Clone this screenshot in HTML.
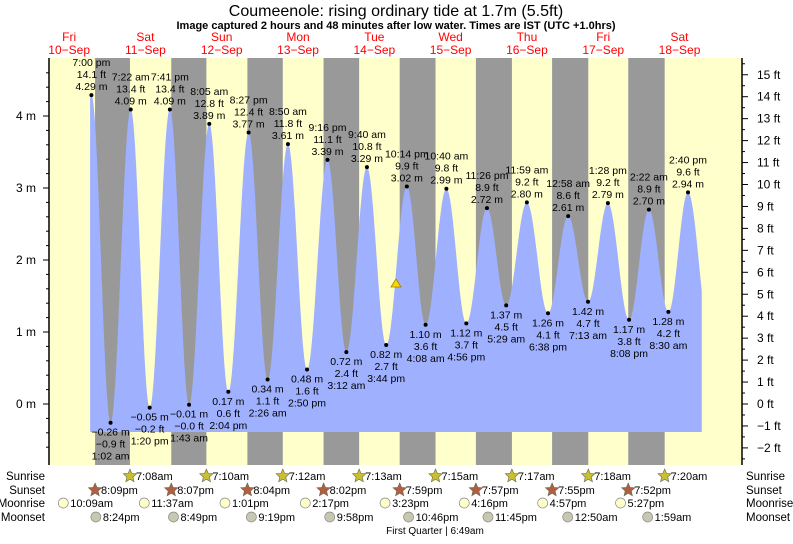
<!DOCTYPE html>
<html><head><meta charset="utf-8"><style>
body{margin:0;background:#fff}
svg text{font-family:"Liberation Sans",sans-serif}
</style></head><body>
<svg id="s" width="793" height="539" xmlns="http://www.w3.org/2000/svg"></svg>
<script>
const S=document.getElementById('s');let h='';
const X=t=>31+3.179*t, Y=m=>404-72*m;
const L=49,R=742,T=58,B=465;
h+=`<rect x="${L}" y="${T}" width="${R-L}" height="${B-T}" fill="#ffffcc"/>`;
const sunsets=[20.15,44.12,68.07,92.03,115.98,139.95,163.92,187.87];
const sunrises=[31.13,55.17,79.2,103.22,127.25,151.28,175.3,199.33];
for(let i=0;i<8;i++)h+=`<rect x="${X(sunsets[i])}" y="${T}" width="${X(sunrises[i])-X(sunsets[i])}" height="${B-T}" fill="#999999"/>`;
const E=[[19,4.29,'7:00 pm','14.1 ft'],[25.03,-0.26,'1:02 am','−0.9 ft'],[31.37,4.09,'7:22 am','13.4 ft'],[37.33,-0.05,'1:20 pm','−0.2 ft'],[43.68,4.09,'7:41 pm','13.4 ft'],[49.72,-0.01,'1:43 am','−0.0 ft'],[56.08,3.89,'8:05 am','12.8 ft'],[62.07,0.17,'2:04 pm','0.6 ft'],[68.45,3.77,'8:27 pm','12.4 ft'],[74.43,0.34,'2:26 am','1.1 ft'],[80.83,3.61,'8:50 am','11.8 ft'],[86.83,0.48,'2:50 pm','1.6 ft'],[93.27,3.39,'9:16 pm','11.1 ft'],[99.2,0.72,'3:12 am','2.4 ft'],[105.67,3.29,'9:40 am','10.8 ft'],[111.73,0.82,'3:44 pm','2.7 ft'],[118.23,3.02,'10:14 pm','9.9 ft'],[124.13,1.10,'4:08 am','3.6 ft'],[130.67,2.99,'10:40 am','9.8 ft'],[136.93,1.12,'4:56 pm','3.7 ft'],[143.43,2.72,'11:26 pm','8.9 ft'],[149.48,1.37,'5:29 am','4.5 ft'],[155.98,2.80,'11:59 am','9.2 ft'],[162.63,1.26,'6:38 pm','4.1 ft'],[168.97,2.61,'12:58 am','8.6 ft'],[175.22,1.42,'7:13 am','4.7 ft'],[181.47,2.79,'1:28 pm','9.2 ft'],[188.13,1.17,'8:08 pm','3.8 ft'],[194.37,2.70,'2:22 am','8.9 ft'],[200.5,1.28,'8:30 am','4.2 ft'],[206.67,2.94,'2:40 pm','9.6 ft']];
const EX=[[13,0]].concat(E.map(e=>[e[0],e[1]]),[[213.5,1.0]]);
function G(f){return (1-Math.cos(Math.PI*f))/2;}
function H(t){for(let i=0;i<EX.length-1;i++){const a=EX[i],b=EX[i+1];if(t>=a[0]&&t<=b[0]){const f=(t-a[0])/(b[0]-a[0]);return a[1]+(b[1]-a[1])*G(f);}}return 0;}
const yb=432;let p=`${X(18.6)},${yb} `;
for(let t=18.6;t<=211;t+=0.05)p+=`${X(t).toFixed(1)},${Y(H(t)).toFixed(1)} `;
p+=`${X(211)},${Y(H(211)).toFixed(1)} ${X(211)},${yb}`;
h+=`<polygon points="${p}" fill="#9fb0ff"/>`;
h+=`<line x1="${L}" y1="${T}" x2="${L}" y2="${B}" stroke="#000" stroke-width="1.5"/><line x1="${R}" y1="${T}" x2="${R}" y2="${B}" stroke="#000" stroke-width="1.5"/>`;
for(let m=-0.6;m<=4.8;m+=0.2){const y=Y(m);const maj=Math.abs(m-Math.round(m))<0.01;h+=`<line x1="${L-(maj?6:3)}" y1="${y}" x2="${L}" y2="${y}" stroke="#000"/>`;if(maj)h+=`<text x="36" y="${y+4}" font-size="12" text-anchor="end">${Math.round(m)<0?'−'+(-Math.round(m)):Math.round(m)} m</text>`;}
for(let f=-2.5;f<=15.5;f+=0.5){const y=404-21.95*f;if(y<T||y>B)continue;const maj=Math.abs(f-Math.round(f))<0.01;h+=`<line x1="${R}" y1="${y}" x2="${R+(maj?6:3)}" y2="${y}" stroke="#000"/>`;if(maj)h+=`<text x="757" y="${y+4}" font-size="12">${f<0?'−'+(-f):f} ft</text>`;}
E.forEach((e,i)=>{const x=X(e[0]),y=Y(e[1]);h+=`<circle cx="${x}" cy="${y}" r="2" fill="#000"/>`;const m=(e[1]<0?'−'+(-e[1]).toFixed(2):e[1].toFixed(2))+' m';
if(i%2==0){h+=`<text font-size="10.5" text-anchor="middle" x="${x}"><tspan x="${x}" y="${y-29}">${e[2]}</tspan><tspan x="${x}" y="${y-17}">${e[3]}</tspan><tspan x="${x}" y="${y-5}">${m}</tspan></text>`;}
else{h+=`<text font-size="10.5" text-anchor="middle" x="${x}"><tspan x="${x}" y="${y+13}">${m}</tspan><tspan x="${x}" y="${y+25}">${e[3]}</tspan><tspan x="${x}" y="${y+37}">${e[2]}</tspan></text>`;}});
h+=`<text x="396" y="16" font-size="16" text-anchor="middle">Coumeenole: rising  ordinary tide at 1.7m (5.5ft)</text>`;
h+=`<text x="396" y="29" font-size="11" font-weight="bold" text-anchor="middle">Image captured 2 hours and 48 minutes after low water. Times are IST (UTC +1.0hrs)</text>`;
const dn=['Fri','Sat','Sun','Mon','Tue','Wed','Thu','Fri','Sat'];
for(let d=0;d<9;d++){const x=X(12+24*d);h+=`<text fill="#ff0000" font-size="12" text-anchor="middle"><tspan x="${x}" y="41">${dn[d]}</tspan><tspan x="${x}" y="54">${10+d}−Sep</tspan></text>`;}
h+=`<polygon points="396,279 391,287 401,287" fill="#ffd700" stroke="#a08000" stroke-width="0.8"/>`;
const rows=[['Sunrise',480],['Sunset',494],['Moonrise',507],['Moonset',521]];
rows.forEach(r=>{h+=`<text x="45" y="${r[1]}" font-size="11.5" text-anchor="end">${r[0]}</text><text x="746" y="${r[1]}" font-size="11.5">${r[0]}</text>`;});
function star(x,y,c){let p='';for(let k=0;k<10;k++){const a=-Math.PI/2+k*Math.PI/5,rr=k%2?3.2:7;p+=`${(x+rr*Math.cos(a)).toFixed(1)},${(y+rr*Math.sin(a)).toFixed(1)} `;}return `<polygon points="${p}" fill="${c}" stroke="#665" stroke-width="0.6"/>`;}
const sr=['7:08am','7:10am','7:12am','7:13am','7:15am','7:17am','7:18am','7:20am'];
const ss=['8:09pm','8:07pm','8:04pm','8:02pm','7:59pm','7:57pm','7:55pm','7:52pm'];
sunrises.forEach((t,i)=>{const x=X(t);h+=star(x,476,'#c8c030')+`<text x="${x+6}" y="480" font-size="11">${sr[i]}</text>`;});
sunsets.forEach((t,i)=>{const x=X(t);h+=star(x,490,'#b06040')+`<text x="${x+6}" y="494" font-size="11">${ss[i]}</text>`;});
const mr=[[10.15,'10:09am'],[35.62,'11:37am'],[61.02,'1:01pm'],[86.28,'2:17pm'],[111.38,'3:23pm'],[136.27,'4:16pm'],[160.95,'4:57pm'],[185.45,'5:27pm']];
const ms=[[20.4,'8:24pm'],[44.82,'8:49pm'],[69.32,'9:19pm'],[93.97,'9:58pm'],[118.77,'10:46pm'],[143.75,'11:45pm'],[168.83,'12:50am'],[193.98,'1:59am']];
mr.forEach(m=>{const x=X(m[0]);h+=`<circle cx="${x}" cy="503" r="5" fill="#ffffcc" stroke="#888" stroke-width="0.7"/><text x="${x+7}" y="507" font-size="11">${m[1]}</text>`;});
ms.forEach(m=>{const x=X(m[0]);h+=`<circle cx="${x}" cy="517" r="5" fill="#c8c8b0" stroke="#888" stroke-width="0.7"/><text x="${x+7}" y="521" font-size="11">${m[1]}</text>`;});
h+=`<text x="435" y="534" font-size="10" text-anchor="middle">First Quarter | 6:49am</text>`;
S.innerHTML=h;
</script>
</body></html>
